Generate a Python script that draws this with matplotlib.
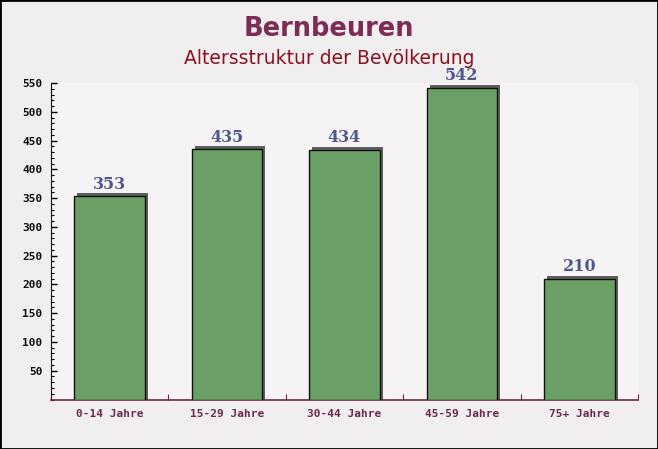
import matplotlib
matplotlib.use("Agg")
import matplotlib.pyplot as plt
from matplotlib.ticker import MultipleLocator

categories = ["0-14 Jahre", "15-29 Jahre", "30-44 Jahre", "45-59 Jahre", "75+ Jahre"]
values = [353, 435, 434, 542, 210]
y_ticks = [50, 100, 150, 200, 250, 300, 350, 400, 450, 500, 550]

fig = plt.figure(figsize=(6.58, 4.49), dpi=100)
fig.patch.set_facecolor("#f1eef0")
ax = fig.add_axes([51/658, 1-399.5/449, (638-51)/658, (399.5-83)/449])
ax.set_facecolor("#f5f3f4")

x = list(range(len(categories)))
bw = 0.6
# shadow
dx = 3.0 * 5 / 587  # data units for ~3px
dy = 3.0 * 550 / 316.5
ax.bar([i + dx for i in x], values, width=bw, bottom=[0]*len(x), color="#5e5e5e", zorder=2)
ax.bar([i + dx for i in x], [dy]*len(x), width=bw, bottom=values, color="#5e5e5e", zorder=2)
ax.bar(x, values, width=bw, color="#6a9f66", edgecolor="#111111", linewidth=1.0, zorder=3)

for i, v in zip(x, values):
    ax.text(i, v + dy + 1, str(v), ha="center", va="bottom", fontsize=11.5,
            fontweight="bold", family="DejaVu Serif", color="#4f5a8a", zorder=4,
            clip_on=False)

ax.set_xlim(-0.5, len(categories) - 0.5)
ax.set_ylim(0, 550)
ax.set_yticks(y_ticks)
ax.set_yticklabels([str(t) for t in y_ticks], family="DejaVu Sans Mono", fontweight="bold",
                   fontsize=8, color="#111111")
ax.yaxis.set_minor_locator(MultipleLocator(10))
ax.tick_params(axis="y", which="major", direction="in", length=4, width=1, pad=6)
ax.tick_params(axis="y", which="minor", direction="in", length=2.5, width=0.8)

ax.set_xticks([i + 0.5 for i in x[:-1]] + [len(x) - 0.5], minor=False)
ax.set_xticklabels([])
ax.set_xticks(x, minor=True)
ax.set_xticklabels(categories, minor=True, family="DejaVu Sans Mono", fontweight="bold",
                   fontsize=8, color="#6b2a4c")
ax.tick_params(axis="x", which="major", direction="in", length=4, color="#6b2a4c")
ax.tick_params(axis="x", which="minor", length=0, pad=7)

for s in ["top", "right"]:
    ax.spines[s].set_visible(False)
ax.spines["left"].set_color("#111111")
ax.spines["bottom"].set_color("#6b2a4c")
ax.spines["bottom"].set_linewidth(1.2)

fig.text(0.5, 1 - 29/449, "Bernbeuren", ha="center", va="center", fontsize=18.5,
         fontweight="bold", color="#7b2d56")
fig.text(0.5, 1 - 59/449, "Altersstruktur der Bevölkerung", ha="center", va="center",
         fontsize=13.5, color="#8b1020")

border = plt.Rectangle((0, 0), 1, 1, transform=fig.transFigure, fill=False,
                       edgecolor="black", linewidth=2)
fig.patches.append(border)

fig.savefig("out.png", dpi=100, facecolor=fig.get_facecolor())
